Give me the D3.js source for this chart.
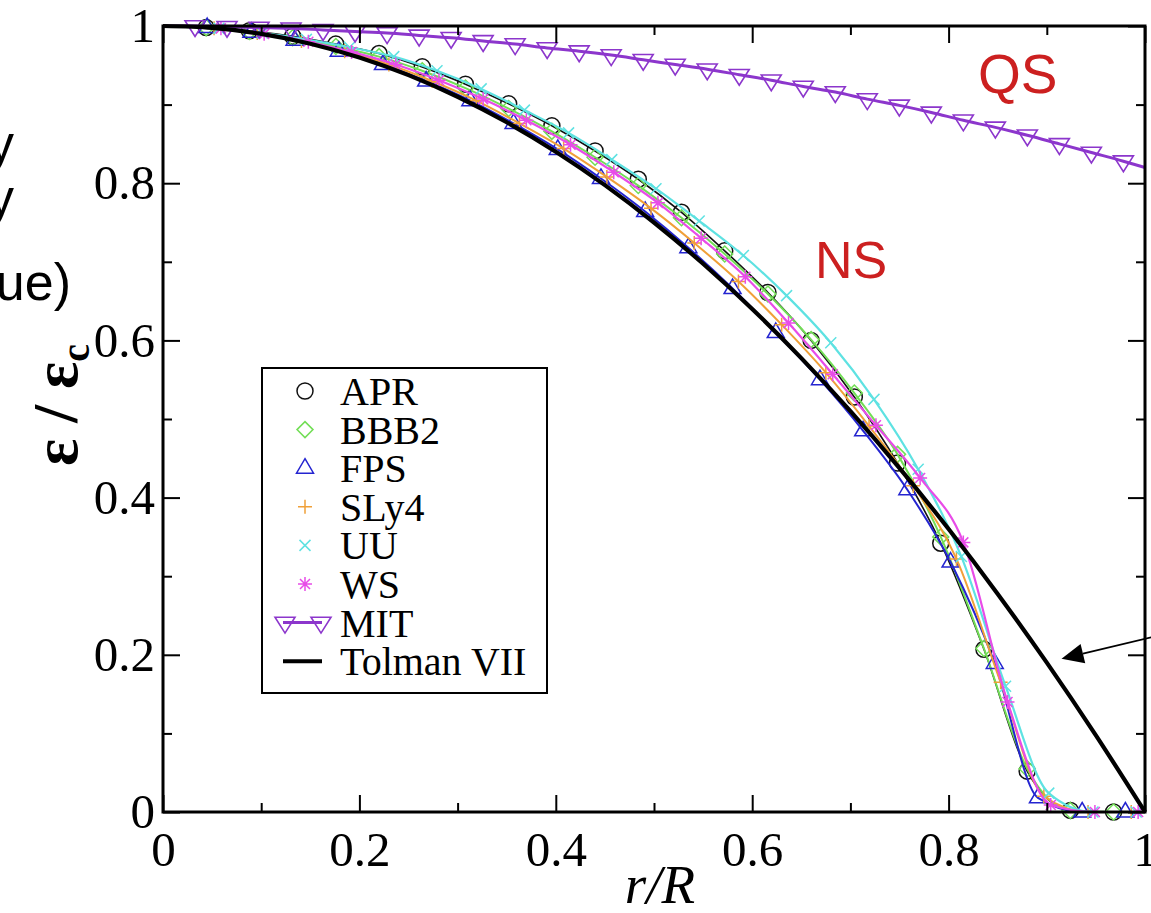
<!DOCTYPE html>
<html><head><meta charset="utf-8">
<script src="https://cdn.jsdelivr.net/npm/d3@7"></script>
<style>body{margin:0;background:#fff;} svg{display:block;}</style>
</head><body>
<svg id="c" width="1151" height="913"></svg>
<script>
// ---------- data ----------
const xMajorTicks = [0, 0.2, 0.4, 0.6, 0.8, 1];
const xTickLabels = ["0", "0.2", "0.4", "0.6", "0.8", "1"];
const yMajorTicks = [0, 0.2, 0.4, 0.6, 0.8, 1];
const yTickLabels = ["0", "0.2", "0.4", "0.6", "0.8", "1"];
const minorTicks = [0.1, 0.3, 0.5, 0.7, 0.9];

const seriesNames = ["APR", "BBB2", "FPS", "SLy4", "UU", "WS", "MIT", "Tolman VII"];

const aprR  = [0.044,0.088,0.132,0.176,0.220,0.264,0.308,0.352,0.396,0.440,0.484,0.528,0.572,0.616,0.660,0.704,0.748,0.792,0.836,0.880,0.924,0.968];
const aprE  = [0.998,0.994,0.987,0.977,0.965,0.948,0.926,0.901,0.873,0.841,0.805,0.763,0.714,0.661,0.600,0.528,0.444,0.342,0.207,0.052,0.002,0.000];
const bbb2R = [0.044,0.088,0.132,0.176,0.220,0.264,0.308,0.352,0.396,0.440,0.484,0.528,0.572,0.616,0.660,0.704,0.748,0.792,0.836,0.880,0.924,0.968];
const bbb2E = [0.998,0.993,0.985,0.974,0.961,0.943,0.921,0.895,0.866,0.833,0.797,0.756,0.710,0.659,0.601,0.533,0.455,0.350,0.208,0.055,0.002,0.000];
const fpsR  = [0.045,0.090,0.134,0.179,0.224,0.268,0.313,0.357,0.402,0.446,0.491,0.535,0.580,0.624,0.669,0.713,0.758,0.802,0.847,0.891,0.936,0.980];
const fpsE  = [0.998,0.992,0.982,0.968,0.951,0.930,0.905,0.876,0.843,0.806,0.764,0.718,0.666,0.610,0.550,0.485,0.410,0.318,0.189,0.018,0.000,0.000];
const sly4R = [0.052,0.096,0.141,0.185,0.230,0.274,0.319,0.363,0.408,0.452,0.497,0.541,0.586,0.630,0.675,0.719,0.764,0.808,0.853,0.897,0.942,0.986];
const sly4E = [0.997,0.991,0.981,0.968,0.951,0.930,0.905,0.876,0.844,0.808,0.768,0.724,0.675,0.620,0.559,0.491,0.415,0.322,0.165,0.020,0.000,0.000];
const uuR   = [0.057,0.101,0.146,0.190,0.235,0.279,0.324,0.368,0.413,0.457,0.502,0.546,0.591,0.635,0.680,0.724,0.769,0.813,0.858,0.902,0.947,0.991];
const uuE   = [0.997,0.991,0.983,0.973,0.961,0.943,0.920,0.893,0.864,0.830,0.793,0.752,0.708,0.657,0.597,0.525,0.436,0.325,0.160,0.024,0.000,0.000];
const wsR   = [0.059,0.103,0.148,0.192,0.237,0.281,0.326,0.370,0.415,0.459,0.504,0.548,0.593,0.637,0.682,0.726,0.771,0.815,0.860,0.904,0.949,0.993];
const wsE   = [0.997,0.990,0.980,0.967,0.951,0.931,0.907,0.880,0.849,0.814,0.775,0.730,0.681,0.622,0.557,0.492,0.425,0.343,0.140,0.009,0.000,0.000];
const mitR  = [0,0.0326,0.0652,0.0978,0.1304,0.163,0.1956,0.2282,0.2608,0.2934,0.326,0.3586,0.3912,0.4238,0.4564,0.489,0.5216,0.5542,0.5868,0.6194,0.652,0.6846,0.7172,0.7498,0.7824,0.815,0.8476,0.8802,0.9128,0.9454,0.978,1.0];
const mitE  = [1.000,1.000,0.999,0.998,0.997,0.995,0.993,0.991,0.988,0.985,0.981,0.977,0.972,0.968,0.963,0.957,0.951,0.945,0.938,0.931,0.923,0.916,0.907,0.899,0.890,0.880,0.871,0.861,0.850,0.839,0.828,0.820];
const tolR  = [0,0.05,0.10,0.15,0.20,0.25,0.30,0.35,0.40,0.45,0.50,0.55,0.60,0.65,0.70,0.75,0.80,0.85,0.90,0.95,1.00];
const tolE  = [1.000,0.9975,0.990,0.9775,0.960,0.9375,0.910,0.8775,0.840,0.7975,0.750,0.6975,0.640,0.5775,0.510,0.4375,0.360,0.2775,0.190,0.0975,0.000];

// ---------- setup ----------
const svg = d3.select("#c");
const x = d3.scaleLinear().domain([0, 1]).range([163, 1145]);
const y = d3.scaleLinear().domain([0, 1]).range([812, 26]);
const serif = "'Liberation Serif','Times New Roman',Times,serif";
const sans = "'Liberation Sans',Arial,Helvetica,sans-serif";

const zip = (r, e) => r.map((v, i) => [v, e[i]]);

// symbol paths
const sym = {
  circle: "M8,0A8,8 0 1,1 -8,0A8,8 0 1,1 8,0Z",
  diamond: "M0,-8L8,0L0,8L-8,0Z",
  triUp: "M0,-9.5L8.5,5L-8.5,5Z",
  plus: "M-7,0H7M0,-7V7",
  cross: "M-5.5,-5.5L5.5,5.5M-5.5,5.5L5.5,-5.5",
  star: "M-7,0H7M0,-7V7M-5,-5L5,5M-5,5L5,-5",
  triDown: "M-10,-5.3L10,-5.3L0,10.5Z"
};

const series = [
  {name: "APR",  r: aprR,  e: aprE,  color: "#111111", sym: "circle",  lw: 1.6},
  {name: "BBB2", r: bbb2R, e: bbb2E, color: "#72de56", sym: "diamond", lw: 2},
  {name: "FPS",  r: fpsR,  e: fpsE,  color: "#2424d0", sym: "triUp",   lw: 2},
  {name: "SLy4", r: sly4R, e: sly4E, color: "#f0a038", sym: "plus",    lw: 2},
  {name: "UU",   r: uuR,   e: uuE,   color: "#5ee2e2", sym: "cross",   lw: 2.2},
  {name: "WS",   r: wsR,   e: wsE,   color: "#e84ce8", sym: "star",    lw: 2.2}
];

const line = d3.line().x(d => x(d[0])).y(d => y(d[1])).curve(d3.curveMonotoneX);

// ---------- left partial texts (cropped slide text) ----------
const leftTxt = svg.append("g").attr("font-family", sans).attr("font-size", 52).attr("fill", "#000").attr("text-anchor", "end");
leftTxt.append("text").attr("x", 14).attr("y", 161).text("Energy");
leftTxt.append("text").attr("x", 14).attr("y", 215).text("density");
leftTxt.append("text").attr("x", 71).attr("y", 300).text("(normalized to central value)");

// ---------- curves ----------
const plot = svg.append("g");
series.forEach(s => {
  const pts = zip(s.r, s.e);
  plot.append("path").attr("d", line(pts)).attr("fill", "none")
    .attr("stroke", s.color).attr("stroke-width", s.lw);
  plot.append("g").selectAll("path").data(pts).join("path")
    .attr("transform", d => `translate(${x(d[0])},${y(d[1])})`)
    .attr("d", sym[s.sym]).attr("fill", "none")
    .attr("stroke", s.color).attr("stroke-width", 1.5);
});

// MIT
const mitPts = zip(mitR, mitE);
plot.append("path").attr("d", line(mitPts)).attr("fill", "none")
  .attr("stroke", "#8c36cc").attr("stroke-width", 3);
plot.append("g").selectAll("path").data(mitPts.filter(d => d[0] > 0 && d[0] < 1)).join("path")
  .attr("transform", d => `translate(${x(d[0])},${y(d[1])})`)
  .attr("d", sym.triDown).attr("fill", "none")
  .attr("stroke", "#8c36cc").attr("stroke-width", 1.6);

// Tolman VII
plot.append("path").attr("d", line(zip(tolR, tolE))).attr("fill", "none")
  .attr("stroke", "#000").attr("stroke-width", 4.2);

// ---------- axes ----------
function styleAxis(g) {
  g.attr("font-family", null);
  g.select(".domain").remove();
  g.selectAll("line").attr("stroke", "#000").attr("stroke-width", 2);
  g.selectAll("text").style("font-family", serif).attr("font-size", 49).attr("fill", "#000");
}
svg.append("g").attr("transform", `translate(0,${y(0)})`)
  .call(d3.axisBottom(x).tickValues(xMajorTicks).tickFormat((d, i) => xTickLabels[i]).tickSizeInner(-17).tickSizeOuter(0).tickPadding(19)).call(styleAxis);
svg.append("g").attr("transform", `translate(0,${y(0)})`)
  .call(d3.axisBottom(x).tickValues(minorTicks).tickFormat("").tickSizeInner(-9).tickSizeOuter(0)).call(styleAxis);
svg.append("g").attr("transform", `translate(0,${y(1)})`)
  .call(d3.axisTop(x).tickValues(xMajorTicks).tickFormat("").tickSizeInner(-17).tickSizeOuter(0)).call(styleAxis);
svg.append("g").attr("transform", `translate(0,${y(1)})`)
  .call(d3.axisTop(x).tickValues(minorTicks).tickFormat("").tickSizeInner(-9).tickSizeOuter(0)).call(styleAxis);
svg.append("g").attr("transform", `translate(${x(0)},0)`)
  .call(d3.axisLeft(y).tickValues(yMajorTicks).tickFormat((d, i) => yTickLabels[i]).tickSizeInner(-17).tickSizeOuter(0).tickPadding(8)).call(styleAxis);
svg.append("g").attr("transform", `translate(${x(0)},0)`)
  .call(d3.axisLeft(y).tickValues(minorTicks).tickFormat("").tickSizeInner(-9).tickSizeOuter(0)).call(styleAxis);
svg.append("g").attr("transform", `translate(${x(1)},0)`)
  .call(d3.axisRight(y).tickValues(yMajorTicks).tickFormat("").tickSizeInner(-17).tickSizeOuter(0)).call(styleAxis);
svg.append("g").attr("transform", `translate(${x(1)},0)`)
  .call(d3.axisRight(y).tickValues(minorTicks).tickFormat("").tickSizeInner(-9).tickSizeOuter(0)).call(styleAxis);

// frame
svg.append("rect").attr("x", x(0)).attr("y", y(1)).attr("width", x(1) - x(0)).attr("height", y(0) - y(1))
  .attr("fill", "none").attr("stroke", "#000").attr("stroke-width", 3);

// axis titles
const xt = svg.append("text").attr("x", 660).attr("y", 903).attr("text-anchor", "middle")
  .style("font-family", serif).attr("font-size", 55).attr("font-style", "italic");
xt.text("r/R");

const yt = svg.append("text").attr("transform", "translate(77,405) rotate(-90)").attr("text-anchor", "middle")
  .style("font-family", serif).attr("font-size", 64).attr("font-weight", "bold");
yt.append("tspan").text("ε / ε");
yt.append("tspan").attr("font-size", 40).attr("dy", 12).text("c");

// ---------- legend ----------
const lg = svg.append("g");
lg.append("rect").attr("x", 262).attr("y", 368).attr("width", 285).attr("height", 325)
  .attr("fill", "#fff").attr("stroke", "#000").attr("stroke-width", 2);
const legY = i => 391 + 38.6 * i;
series.forEach((s, i) => {
  lg.append("path").attr("transform", `translate(305,${legY(i)})`).attr("d", sym[s.sym])
    .attr("fill", "none").attr("stroke", s.color).attr("stroke-width", 1.5);
});
// MIT legend
lg.append("line").attr("x1", 283).attr("x2", 322).attr("y1", legY(6)).attr("y2", legY(6))
  .attr("stroke", "#8c36cc").attr("stroke-width", 3);
[285, 321].forEach(px => lg.append("path").attr("transform", `translate(${px},${legY(6)})`)
  .attr("d", sym.triDown).attr("fill", "none").attr("stroke", "#8c36cc").attr("stroke-width", 1.6));
// Tolman legend
lg.append("line").attr("x1", 283).attr("x2", 322).attr("y1", legY(7)).attr("y2", legY(7))
  .attr("stroke", "#000").attr("stroke-width", 4);
seriesNames.forEach((n, i) => {
  lg.append("text").attr("x", 340).attr("y", legY(i) + 14).style("font-family", serif)
    .attr("font-size", 40).attr("fill", "#000").text(n);
});

// ---------- annotations ----------
svg.append("text").attr("x", x(0.830)).attr("y", y(0.915)).attr("font-family", sans)
  .attr("font-size", 55).attr("fill", "#cc2020").text("QS");
svg.append("text").attr("x", x(0.664)).attr("y", y(0.679)).attr("font-family", sans)
  .attr("font-size", 52).attr("fill", "#cc2020").text("NS");

// arrow pointing to the Tolman VII curve
const tip = [x(0.915), y(0.195)];
const tail = [1170, y(0.228)];
const dx = tail[0] - tip[0], dy = tail[1] - tip[1], L = Math.hypot(dx, dy);
const ux = dx / L, uy = dy / L;
const bx = tip[0] + 22 * ux, by = tip[1] + 22 * uy;
svg.append("line").attr("x1", tail[0]).attr("y1", tail[1]).attr("x2", bx).attr("y2", by)
  .attr("stroke", "#000").attr("stroke-width", 1.6);
svg.append("path").attr("d", `M${tip[0]},${tip[1]}L${bx - 10 * uy},${by + 10 * ux}L${bx + 10 * uy},${by - 10 * ux}Z`)
  .attr("fill", "#000");
</script>
</body></html>
